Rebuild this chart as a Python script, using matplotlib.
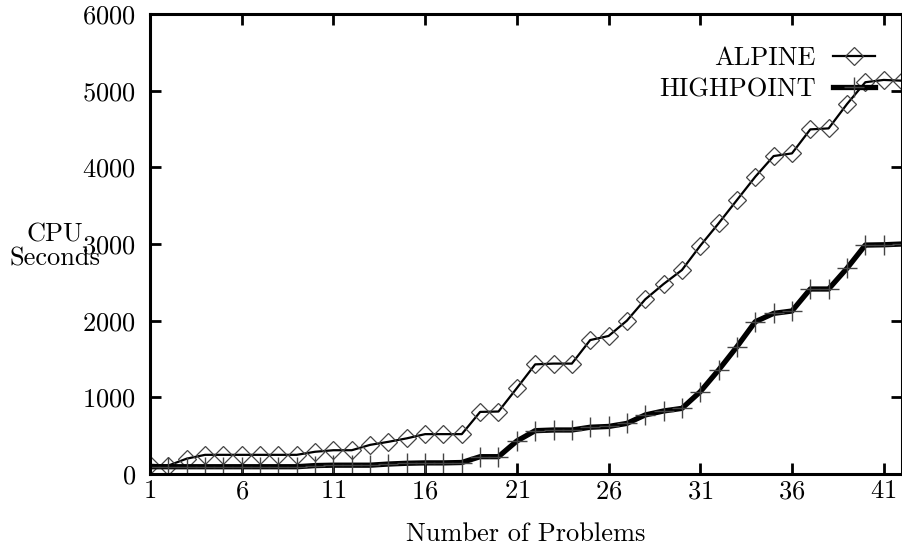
import matplotlib
matplotlib.use("Agg")
import matplotlib.pyplot as plt
import numpy as np

problems = list(range(1, 43))
alpine = [120, 110, 200, 250, 250, 250, 250, 250, 250, 290,
          310, 310, 380, 420, 465, 520, 520, 520, 810, 815,
          1120, 1430, 1440, 1440, 1747, 1800, 2000, 2278, 2478, 2660,
          2977, 3269, 3573, 3877, 4147, 4182, 4495, 4508, 4825, 5110,
          5140, 5130]
highpoint = [95, 95, 95, 95, 95, 95, 95, 95, 95, 110,
             115, 115, 115, 130, 140, 145, 145, 150, 226, 226,
             430, 565, 574, 574, 610, 620, 660, 770, 822, 856,
             1073, 1356, 1660, 1986, 2095, 2126, 2413, 2413, 2683, 2986,
             2990, 3000]
xticks = [1, 6, 11, 16, 21, 26, 31, 36, 41]
yticks = [0, 1000, 2000, 3000, 4000, 5000, 6000]

plt.rcParams['font.family'] = ['cmr10', 'DejaVu Serif']
plt.rcParams['axes.formatter.use_mathtext'] = True

fig = plt.figure(figsize=(9.03, 5.46), dpi=100)
ax = fig.add_axes([150/903, 72/546, 752/903, 460/546])

ax.plot(problems, alpine, color='black', lw=1.6, marker='D', markersize=9.5,
        markerfacecolor='none', markeredgecolor='#444444', markeredgewidth=0.9,
        label='ALPINE')
ax.plot(problems, highpoint, color='black', lw=3.8, marker='+', markersize=15,
        markeredgecolor='#444444', markeredgewidth=1.0, label='HIGHPOINT')

ax.set_xlim(1, 42)
ax.set_ylim(0, 6000)
ax.set_xticks(xticks)
ax.set_yticks(yticks)
ax.tick_params(direction='in', length=8, width=2, top=True, right=True,
               labelsize=19)
ax.tick_params(axis='x', pad=4)
ax.tick_params(axis='y', pad=10)
for s in ax.spines.values():
    s.set_linewidth(2.2)

ax.set_xlabel('Number of Problems', fontsize=19, labelpad=14)
fig.text(55/903, 1 - 247/546, 'CPU\nSeconds', fontsize=19, ha='center',
         va='center', multialignment='center', linespacing=1.0)

leg = ax.legend(loc='upper right', bbox_to_anchor=(0.964, 0.93), frameon=False,
                markerfirst=False, numpoints=1, fontsize=19, handlelength=1.6,
                handletextpad=0.65, labelspacing=0.3, borderaxespad=0,
                borderpad=0)

fig.savefig('out.png', dpi=100)
